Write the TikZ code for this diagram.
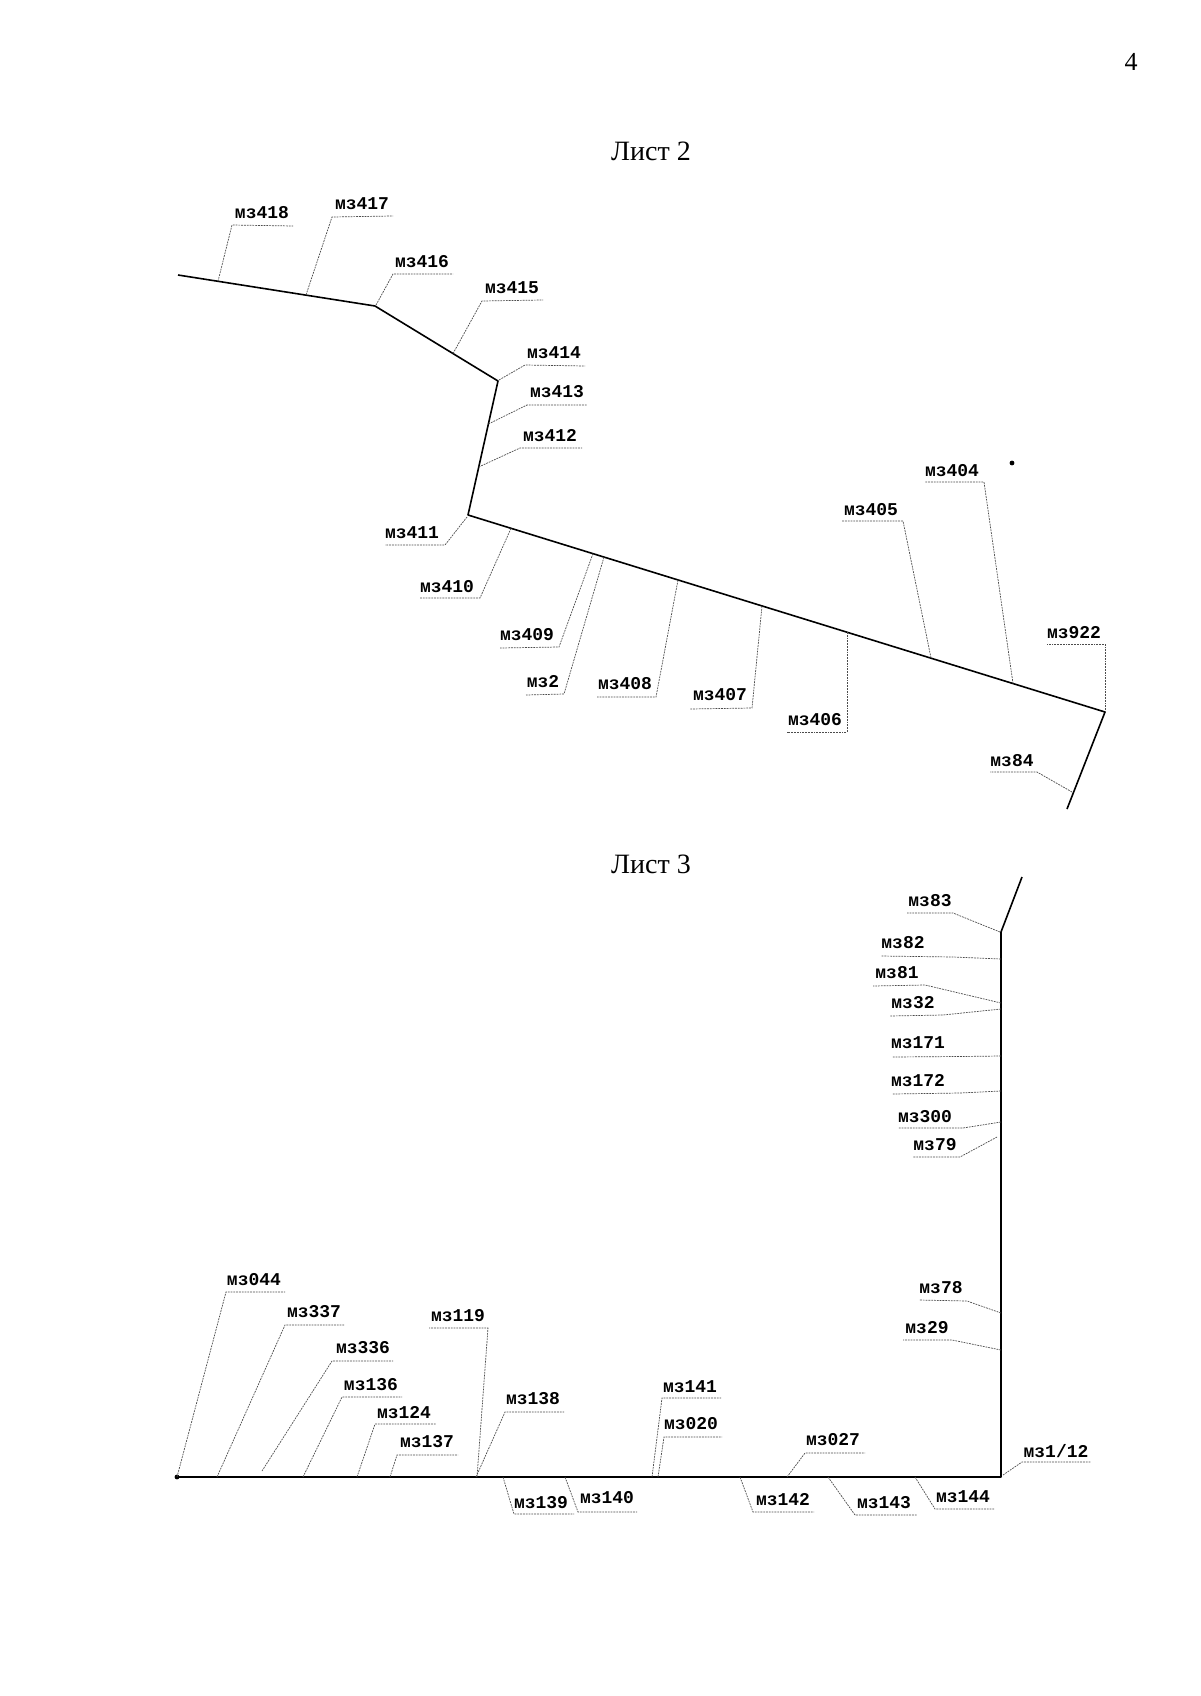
\documentclass[tikz,border=0pt]{standalone}
\usepackage{fontspec}
\setmainfont{Liberation Serif}
\newfontfamily\labfont{Liberation Mono}
\newcommand\mzl[6]{%
  \coordinate (a#1) at #3;
  \coordinate (b#1) at #4;
  \coordinate (e#1) at #5;
  \node[lab] (l#1) at #6 {мз#2};
  \draw[leader] (a#1) -- (b#1) -- (e#1);}
\begin{document}
\begin{tikzpicture}[x=0.5pt,y=-0.5pt,
  mainline/.style={line width=0.8pt, black, line join=round},
  leader/.style={line width=0.35pt, black!70, dash pattern=on 0.9pt off 0.5pt},
  lab/.style={inner sep=0pt, font=\labfont\bfseries\fontsize{9}{10}\selectfont},
  title/.style={inner sep=0pt, font=\fontsize{14}{16}\selectfont}]
\useasboundingbox (0,0) rectangle (1200,1696);
\fill[white] (0,0) rectangle (1200,1696);

% page number and titles
\node[title, font=\fontsize{13}{15}\selectfont] (pg) at (1131,62) {4};
\node[title] (t2) at (651,151) {Лист 2};
\node[title] (t3) at (651,864) {Лист 3};

% ---------- Лист 2 ----------
\coordinate (s0) at (178,275);
\coordinate (j416) at (375,306);
\coordinate (j414) at (498,381);
\coordinate (j411) at (468,515);
\coordinate (j922) at (1105,712);
\coordinate (s1) at (1067,809);
\draw[mainline] (s0) -- (j416) -- (j414) -- (j411) -- (j922) -- (s1);

\mzl{418}{418}{(218,281.3)}{(232,225)}{(293,226)}{(262,213)}
\mzl{417}{417}{(306,295)}{(332,217)}{(393,216)}{(362,204)}
\mzl{416}{416}{(376,305)}{(393,274)}{(453,274)}{(422,262)}
\mzl{415}{415}{(453,353.6)}{(482,301)}{(543,300)}{(512,288)}
\mzl{414}{414}{(499,380)}{(525,365)}{(585,366)}{(554,353)}
\mzl{413}{413}{(488.4,424)}{(527,405)}{(587,405)}{(557,392)}
\mzl{412}{412}{(478.7,467)}{(520,448)}{(582,448)}{(550,436)}
\mzl{411}{411}{(467,517)}{(445,545)}{(385,545)}{(412,533)}
\mzl{410}{410}{(511,528.3)}{(480,598)}{(420,598)}{(447,587)}
\mzl{409}{409}{(593,553.6)}{(559,647)}{(500,648)}{(527,635)}
\mzl{2}{2}{(604,557)}{(564,694)}{(526,695)}{(543,682)}
\mzl{408}{408}{(678,580)}{(656,697)}{(597,697)}{(625,684)}
\mzl{407}{407}{(762,606)}{(752,708)}{(690,709)}{(720,695)}
\mzl{406}{406}{(847,632)}{(847,732)}{(787,732)}{(815,720)}
\mzl{405}{405}{(931,658)}{(903,521)}{(842,521)}{(871,510)}
\mzl{404}{404}{(1013,683.5)}{(984,482)}{(925,482)}{(952,471)}
\mzl{922}{922}{(1105,710)}{(1105,644)}{(1047,644)}{(1074,633)}
\mzl{84}{84}{(1072,792)}{(1037,772)}{(990,772)}{(1012,761)}
\fill (1012,463) circle (1.2pt);

% ---------- Лист 3 ----------
\coordinate (q0) at (1022,877);
\coordinate (j83) at (1001,932);
\coordinate (c112) at (1001,1477);
\coordinate (q1) at (177,1477);
\draw[mainline] (q0) -- (j83) -- (c112) -- (q1);
\fill (q1) circle (1.2pt);

\mzl{83}{83}{(1000,932)}{(953,913)}{(907,913)}{(930,901)}
\mzl{82}{82}{(1001,959)}{(953,957)}{(881,956)}{(903,943)}
\mzl{81}{81}{(1001,1003)}{(925,985)}{(873,986)}{(897,973)}
\mzl{32}{32}{(1001,1009)}{(943,1015)}{(890,1016)}{(913,1003)}
\mzl{171}{171}{(1001,1056)}{(960,1056.5)}{(892,1057)}{(918,1043)}
\mzl{172}{172}{(1001,1091)}{(960,1093)}{(892,1094)}{(918,1081)}
\mzl{300}{300}{(1001,1122)}{(963,1128)}{(898,1128)}{(925,1117)}
\mzl{79}{79}{(997,1137)}{(960,1157)}{(913,1157)}{(935,1145)}
\mzl{78}{78}{(1001,1313)}{(967,1301)}{(919,1300)}{(941,1288)}
\mzl{29}{29}{(1001,1350)}{(952,1340)}{(903,1340)}{(927,1328)}
\mzl{112}{1/12}{(1003,1475)}{(1022,1462)}{(1091,1462)}{(1056,1451)}

\mzl{044}{044}{(177,1477)}{(226,1292)}{(285,1292)}{(254,1280)}
\mzl{337}{337}{(217,1477)}{(285,1325)}{(344,1325)}{(314,1312)}
\mzl{336}{336}{(262,1471)}{(332,1361)}{(393,1361)}{(363,1348)}
\mzl{136}{136}{(303,1477)}{(342,1397)}{(402,1397)}{(371,1385)}
\mzl{124}{124}{(357,1477)}{(375,1424)}{(436,1424)}{(404,1413)}
\mzl{137}{137}{(390,1477)}{(397,1455)}{(458,1455)}{(427,1442)}
\mzl{119}{119}{(477,1477)}{(488,1328)}{(429,1328)}{(458,1316)}
\mzl{138}{138}{(476,1477)}{(505,1412)}{(564,1412)}{(533,1399)}
\mzl{139}{139}{(503,1477)}{(514,1514)}{(574,1514)}{(541,1503)}
\mzl{140}{140}{(565,1477)}{(578,1512)}{(637,1512)}{(607,1498)}
\mzl{141}{141}{(652,1477)}{(662,1398)}{(721,1398)}{(690,1387)}
\mzl{020}{020}{(658,1477)}{(664,1437)}{(722,1437)}{(691,1424)}
\mzl{027}{027}{(787,1477)}{(805,1453)}{(865,1453)}{(833,1440)}
\mzl{142}{142}{(740,1477)}{(753,1512)}{(814,1512)}{(783,1500)}
\mzl{143}{143}{(828,1477)}{(855,1515)}{(917,1515)}{(884,1503)}
\mzl{144}{144}{(915,1477)}{(935,1509)}{(994,1509)}{(963,1497)}
\end{tikzpicture}
\end{document}
